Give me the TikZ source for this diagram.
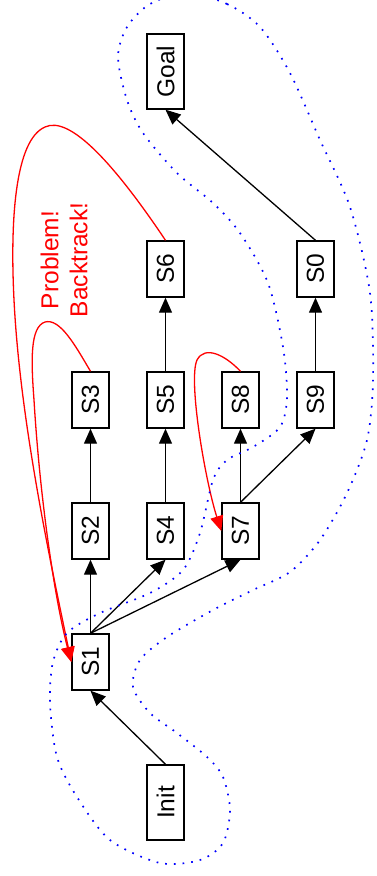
\documentclass[tikz,border=0pt]{standalone}
\usepackage{fontspec}
\usepackage{graphicx}
\setmainfont{Liberation Sans}
\usetikzlibrary{arrows.meta}
\begin{document}
\begin{tikzpicture}[x=1pt,y=-1pt,
  box/.style={draw,line width=1.4pt,minimum width=37pt,inner sep=0pt,font=\fontsize{24.5}{29}\selectfont},
  sbox/.style={box,minimum height=56pt},
  lbox/.style={box,minimum height=75pt},
  edge/.style={line width=1.3pt,-{Triangle[length=15pt,width=13pt]}},
  redge/.style={red,line width=1.3pt,-{Triangle[length=15pt,width=13pt]}},
  outline/.style={blue,line width=1.7pt,dash pattern=on 1.7pt off 7pt}]
\useasboundingbox (0,0) rectangle (376,876);
\node[lbox] (Goal) at (165.5,71.5) {\rotatebox{90}{Goal}};
\node[sbox] (S6) at (165.5,269) {\rotatebox{90}{S6}};
\node[sbox] (S0) at (315.5,269) {\rotatebox{90}{S0}};
\node[sbox] (S3) at (90.5,400) {\rotatebox{90}{S3}};
\node[sbox] (S5) at (165.5,400) {\rotatebox{90}{S5}};
\node[sbox] (S8) at (240.5,400) {\rotatebox{90}{S8}};
\node[sbox] (S9) at (315.5,400) {\rotatebox{90}{S9}};
\node[sbox] (S2) at (90.5,531) {\rotatebox{90}{S2}};
\node[sbox] (S4) at (165.5,531) {\rotatebox{90}{S4}};
\node[sbox] (S7) at (240.5,531) {\rotatebox{90}{S7}};
\node[sbox] (S1) at (90.5,662) {\rotatebox{90}{S1}};
\node[lbox] (Init) at (165.5,802.5) {\rotatebox{90}{Init}};
\node[red,rotate=90,align=center,font=\fontsize{24.5}{29}\selectfont] (lab) at (64,260) {Problem!\\Backtrack!};
\draw[edge] (Init.north) -- (S1.south);
\draw[edge] (S1.north) -- (S2.south);
\draw[edge] (S1.north) -- (S4.south);
\draw[edge] (S1.north) -- (S7.south);
\draw[edge] (S2.north) -- (S3.south);
\draw[edge] (S4.north) -- (S5.south);
\draw[edge] (S5.north) -- (S6.south);
\draw[edge] (S7.north) -- (S8.south);
\draw[edge] (S7.north) -- (S9.south);
\draw[edge] (S9.north) -- (S0.south);
\draw[edge] (S0.north) -- (Goal.south);
\draw[redge] (S6.north) .. controls (115,165) and (70,115) .. (45,127) .. controls (15,140) and (10,220) .. (14,300) .. controls (20,420) and (50,560) .. (S1.west);
\draw[redge] (S3.north) .. controls (75,345) and (60,318) .. (45,322) .. controls (30,327) and (31,360) .. (34,400) .. controls (40,500) and (55,600) .. (S1.west);
\draw[redge] (S8.north) .. controls (225,355) and (205,345) .. (197,360) .. controls (188,380) and (205,480) .. (S7.west);
\draw[outline] plot[smooth cycle] coordinates {(187,-7) (227,4) (260,27) (290,73) (320,140) (350,207) (370,293) (373,380) (367,440) (347,493) (320,540) (290,572) (253,590) (213,610) (167,637) (140,660) (133,687) (150,713) (177,733) (207,757) (223,777) (230,810) (223,843) (200,860) (160,863) (110,840) (77,797) (57,757) (50,703) (53,662) (67,633) (100,613) (150,593) (183,570) (200,533) (213,480) (227,460) (253,447) (280,427) (287,397) (283,347) (268,283) (240,233) (213,203) (177,173) (143,133) (127,100) (118,57) (127,27) (150,4)};
\end{tikzpicture}
\end{document}
